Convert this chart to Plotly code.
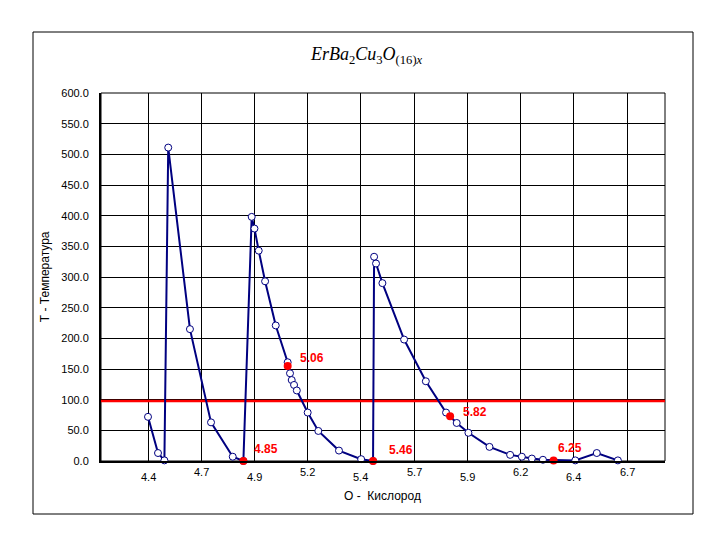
import plotly.graph_objects as go

# ---- data ----
o_vals = [4.400, 4.447, 4.477, 4.495, 4.597, 4.696, 4.798, 4.848,
          4.887, 4.900, 4.920, 4.950, 5.000, 5.056, 5.067, 5.075, 5.086, 5.099,
          5.150, 5.200, 5.297, 5.401, 5.457,
          5.462, 5.471, 5.501, 5.603, 5.705, 5.800, 5.850, 5.905, 6.004,
          6.101, 6.156, 6.203, 6.255, 6.407, 6.508, 6.607]
t_vals = [72, 13, 1, 511, 215, 63, 7, 0,
          398, 379, 343, 293, 221, 161, 143, 132, 124, 115,
          79, 49, 17, 3, 0,
          333, 322, 290, 198, 130, 79, 62, 46, 23,
          10, 7, 4, 2, 1, 13, 1]

mark_x = [4.848, 5.056, 5.457, 5.819, 6.305]
mark_y = [0, 155, 0, 73, 1]
mark_labels = ["4.85", "5.06", "5.46", "5.82", "6.25"]

tc_level = 98

x_tickvals = [4.40, 4.65, 4.90, 5.15, 5.40, 5.65, 5.90, 6.15, 6.40, 6.65]
x_ticktext = ["4.4", "4.7", "4.9", "5.2", "5.4", "5.7", "5.9", "6.2", "6.4", "6.7"]
x_range = [4.1792, 6.8284]
y_tickvals = [0, 50, 100, 150, 200, 250, 300, 350, 400, 450, 500, 550, 600]

# label placement (pixel offsets from the marked point) - styling only
label_dx = [9, 10, 14, 11, 2]
label_dy = [12, 8, 11, 4, 12]

NAVY = "#000080"
RED = "#FF0000"
FONT = "Liberation Sans, Arial, sans-serif"
SERIF = "Liberation Serif, Times New Roman, serif"

fig = go.Figure()

# Tc line
fig.add_trace(go.Scatter(x=x_range, y=[tc_level, tc_level], mode="lines",
                         line=dict(color=RED, width=2.5), hoverinfo="skip", showlegend=False))

# main series
fig.add_trace(go.Scatter(x=o_vals, y=t_vals, mode="lines+markers",
                         line=dict(color=NAVY, width=2),
                         marker=dict(symbol="circle", size=7, color="white",
                                     line=dict(color=NAVY, width=1)),
                         cliponaxis=False, showlegend=False))

# highlighted points
fig.add_trace(go.Scatter(x=mark_x, y=mark_y, mode="markers",
                         marker=dict(symbol="circle", size=8, color=RED,
                                     line=dict(color=RED, width=0)),
                         cliponaxis=False, showlegend=False))

annotations = []
for xv, yv, lab, dx, dy in zip(mark_x, mark_y, mark_labels, label_dx, label_dy):
    annotations.append(dict(x=xv, y=yv, xref="x", yref="y", text="<b>" + lab + "</b>",
                            showarrow=False, xanchor="left", yanchor="middle",
                            xshift=dx, yshift=dy,
                            font=dict(family=FONT, size=12, color=RED)))

# staggered x tick labels
for i, (xv, lab) in enumerate(zip(x_tickvals, x_ticktext)):
    annotations.append(dict(x=xv, y=0, xref="x", yref="paper", text=lab,
                            showarrow=False, xanchor="center", yanchor="top",
                            yshift=-8 if i % 2 == 0 else -3,
                            font=dict(family=FONT, size=11, color="black")))

# title
annotations.append(dict(x=0.47, y=1.103, xref="paper", yref="paper",
                        text="<i>ErBa</i><sub>2</sub><i>Cu</i><sub>3</sub><i>O</i>"
                             "<sub>(16)<i>x</i></sub>",
                        showarrow=False, xanchor="center", yanchor="middle",
                        font=dict(family=SERIF, size=18, color="black")))
# axis titles
annotations.append(dict(x=0.499, y=-0.095, xref="paper", yref="paper",
                        text="O -  Кислород", showarrow=False,
                        xanchor="center", yanchor="middle",
                        font=dict(family=FONT, size=12, color="black")))
annotations.append(dict(x=-0.099, y=0.5, xref="paper", yref="paper",
                        text="Т - Температура", showarrow=False, textangle=-90,
                        xanchor="center", yanchor="middle",
                        font=dict(family=FONT, size=12, color="black")))

shapes = [
    # outer chart frame
    dict(type="rect", xref="paper", yref="paper",
         x0=(33 - 101) / 564, x1=(693 - 101) / 564,
         y0=(461 - 514) / 368, y1=(461 - 32) / 368,
         line=dict(color="black", width=1), fillcolor="rgba(0,0,0,0)", layer="below"),
    # plot box top/right
    dict(type="rect", xref="paper", yref="paper", x0=0, x1=1, y0=0, y1=1,
         line=dict(color="black", width=1), fillcolor="rgba(0,0,0,0)", layer="below"),
]

fig.update_layout(
    width=726, height=546,
    margin=dict(l=101, r=61, t=93, b=85),
    paper_bgcolor="white", plot_bgcolor="white",
    font=dict(family=FONT, size=11, color="black"),
    annotations=annotations, shapes=shapes,
    showlegend=False,
)
fig.update_xaxes(range=x_range, tickvals=x_tickvals, showticklabels=False,
                 showgrid=True, gridcolor="black", gridwidth=1,
                 showline=True, linecolor="black", linewidth=2,
                 zeroline=False, ticks="", fixedrange=True)
fig.update_yaxes(range=[0, 600], tickvals=y_tickvals, tickformat=".1f",
                 showgrid=True, gridcolor="black", gridwidth=1,
                 showline=True, linecolor="black", linewidth=2,
                 zeroline=False, ticks="", ticklabelstandoff=8,
                 tickfont=dict(family=FONT, size=11, color="black"), fixedrange=True)

fig.write_html("out.html")
